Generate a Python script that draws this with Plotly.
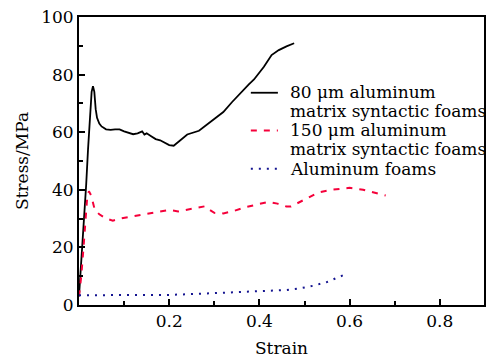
import plotly.graph_objects as go

# 80 um aluminum matrix syntactic foams
strain_80 = [0, 0.004, 0.008, 0.012, 0.016, 0.02, 0.024, 0.028, 0.031, 0.034, 0.037, 0.04,
             0.045, 0.05, 0.06, 0.07, 0.08, 0.09, 0.10, 0.11, 0.12, 0.13, 0.14, 0.145, 0.15,
             0.16, 0.17, 0.18, 0.19, 0.20, 0.21, 0.22, 0.23, 0.24, 0.266, 0.295, 0.32, 0.339,
             0.355, 0.376, 0.388, 0.41, 0.427, 0.443, 0.46, 0.477]
stress_80 = [3, 12, 22, 32, 42, 54, 66, 74, 76, 74, 68, 65,
             63, 62, 61, 60.8, 61, 61, 60.3, 59.8, 59.3, 59.6, 60.3, 59.2, 59.6,
             58.6, 57.6, 57.2, 56.4, 55.5, 55.3, 56.5, 58, 59.2, 60.5, 64, 67, 70.4,
             73.2, 76.5, 78.3, 82.7, 86.8, 88.5, 89.8, 90.9]

# 150 um aluminum matrix syntactic foams
strain_150 = [0, 0.005, 0.01, 0.014, 0.018, 0.022, 0.027, 0.035, 0.045, 0.06, 0.075, 0.09,
              0.12, 0.15, 0.18, 0.2, 0.22, 0.25, 0.27, 0.28, 0.29, 0.30, 0.32, 0.34, 0.37,
              0.40, 0.42, 0.44, 0.46, 0.47, 0.50, 0.53, 0.56, 0.60, 0.63, 0.66, 0.68]
stress_150 = [3, 10, 20, 30, 37, 39.5, 38, 33, 31.5, 30, 29.3, 30,
              30.8, 31.5, 32.5, 33, 32.5, 33.5, 34.2, 34.3, 33, 32, 31.8, 32.5, 34,
              35, 35.8, 35.2, 34.2, 34.2, 36.5, 39, 40, 40.7, 40, 38.8, 38]

# Aluminum foams
strain_al = [0, 0.05, 0.1, 0.15, 0.2, 0.25, 0.3, 0.35, 0.4, 0.43, 0.46, 0.49, 0.52, 0.55,
             0.575, 0.59]
stress_al = [3.4, 3.4, 3.4, 3.4, 3.5, 3.8, 4.1, 4.4, 4.7, 4.9, 5.2, 5.8, 6.7, 8.0, 9.5, 10.6]

x_ticks = [0.2, 0.4, 0.6, 0.8]
y_ticks = [0, 20, 40, 60, 80, 100]

legend_lines = ["80 \u03bcm aluminum", "matrix syntactic foams",
                "150 \u03bcm aluminum", "matrix syntactic foams", "Aluminum foams"]

BLACK = "#000000"
RED = "#f5003a"
BLUE = "#141490"
FONT = "DejaVu Serif"
FS = 17

fig = go.Figure()
fig.add_trace(go.Scatter(x=strain_80, y=stress_80, mode="lines",
                         line=dict(color=BLACK, width=1.8), showlegend=False))
fig.add_trace(go.Scatter(x=strain_150, y=stress_150, mode="lines",
                         line=dict(color=RED, width=2, dash="6px,7px"), showlegend=False))
fig.add_trace(go.Scatter(x=strain_al, y=stress_al, mode="lines",
                         line=dict(color=BLUE, width=2, dash="2px,6px"), showlegend=False))

# Legend (manual) in data coordinates
text_y = [73.8, 67.4, 60.7, 54.0, 47.2]
for t, ty in zip(legend_lines, text_y):
    fig.add_annotation(x=0.4627, y=ty, xref="x", yref="y", text=t, showarrow=False,
                       xanchor="left", yanchor="middle",
                       font=dict(family=FONT, size=FS, color="black"))
sym = [(73.7, BLACK, "solid", 1.8), (60.6, RED, "6px,7px", 2), (47.3, BLUE, "2px,6px", 2)]
for sy, c, d, w in sym:
    fig.add_shape(type="line", x0=0.381, x1=0.441, y0=sy, y1=sy, xref="x", yref="y",
                  line=dict(color=c, dash=d, width=w))

axis_common = dict(showgrid=False, zeroline=False, showline=True, linecolor="black",
                   linewidth=1.8, mirror=True, ticks="inside", tickcolor="black",
                   tickwidth=1.5, ticklen=6,
                   tickfont=dict(family=FONT, size=FS, color="black"))

fig.update_xaxes(range=[0, 0.898], tickvals=x_ticks, ticktext=[str(v) for v in x_ticks],
                 minor=dict(tickvals=[0.1, 0.3, 0.5, 0.7], ticks="inside", ticklen=4,
                            tickcolor="black", tickwidth=1.5),
                 title=dict(text="Strain", font=dict(family=FONT, size=FS, color="black"),
                            standoff=12),
                 **axis_common)
fig.update_yaxes(range=[0, 100], tickvals=y_ticks, ticktext=[str(v) for v in y_ticks],
                 minor=dict(tickvals=[10, 30, 50, 70, 90], ticks="inside", ticklen=4,
                            tickcolor="black", tickwidth=1.5),
                 title=dict(text="Stress/MPa", font=dict(family=FONT, size=FS, color="black"),
                            standoff=8),
                 **axis_common)

fig.update_layout(width=489, height=358, margin=dict(l=79, r=3, t=17, b=49),
                  plot_bgcolor="white", paper_bgcolor="white", showlegend=False,
                  font=dict(family=FONT))

fig.write_html("out.html")
